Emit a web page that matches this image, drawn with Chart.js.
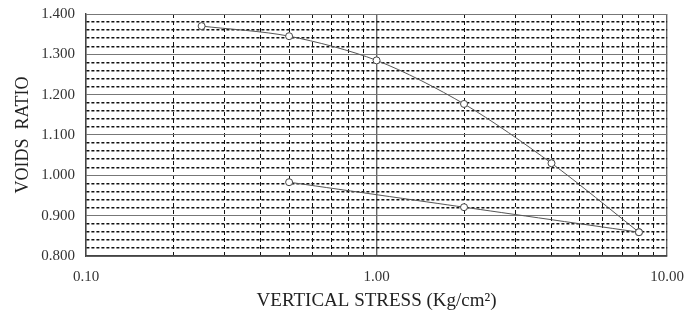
<!DOCTYPE html>
<html>
<head>
<meta charset="utf-8">
<script src="https://cdn.jsdelivr.net/npm/chart.js@4.4.0/dist/chart.umd.min.js"></script>
<style>
html, body { margin: 0; padding: 0; background: #fff; }
#wrap { width: 696px; height: 312px; }
</style>
</head>
<body>
<div id="wrap"><canvas id="voids"></canvas></div>
<script>
// consolidation test: loading and unloading branches
const loadStress = [0.25, 0.5, 1.0, 2.0, 4.0, 8.0];
const loadVoids = [1.370, 1.345, 1.285, 1.177, 1.030, 0.859];
const unloadStress = [8.0, 2.0, 0.5];
const unloadVoids = [0.859, 0.921, 0.983];

// axis ticks (log x, linear y)
const xTicks = [0.1, 0.2, 0.3, 0.4, 0.5, 0.6, 0.7, 0.8, 0.9, 1, 2, 3, 4, 5, 6, 7, 8, 9, 10];
const xLabelled = [0.1, 1, 10];
const yTicks = [0.80, 0.82, 0.84, 0.86, 0.88, 0.90, 0.92, 0.94, 0.96, 0.98,
                1.00, 1.02, 1.04, 1.06, 1.08, 1.10, 1.12, 1.14, 1.16, 1.18,
                1.20, 1.22, 1.24, 1.26, 1.28, 1.30, 1.32, 1.34, 1.36, 1.38, 1.40];

const toPoints = (xs, ys) => xs.map((x, i) => ({ x: x, y: ys[i] }));
const isMajorY = v => Math.round(v * 100) % 10 === 0;
const isMajorX = v => xLabelled.includes(v);

const serif = "'Liberation Serif', 'Times New Roman', serif";

const ctx = document.getElementById('voids').getContext('2d');

new Chart(ctx, {
    type: 'scatter',
    data: {
        datasets: [
            {
                label: 'Loading',
                data: toPoints(loadStress, loadVoids),
                showLine: true,
                tension: 0.3,
                borderColor: '#555',
                borderWidth: 1,
                pointRadius: 3.5,
                pointBackgroundColor: '#fff',
                pointBorderColor: '#444',
                pointBorderWidth: 1
            },
            {
                label: 'Unloading',
                data: toPoints(unloadStress, unloadVoids),
                showLine: true,
                tension: 0.2,
                borderColor: '#555',
                borderWidth: 1,
                pointRadius: 3.5,
                pointBackgroundColor: '#fff',
                pointBorderColor: '#444',
                pointBorderWidth: 1
            }
        ]
    },
    options: {
        responsive: true,
        maintainAspectRatio: false,
        animation: false,
        layout: { padding: { top: 14, right: 26, left: 0, bottom: 0 } },
        plugins: {
            legend: { display: false },
            tooltip: { enabled: false }
        },
        scales: {
            x: {
                type: 'logarithmic',
                min: 0.1,
                max: 10,
                afterBuildTicks: scale => {
                    scale.ticks = xTicks.map(v => ({ value: v, major: isMajorX(v) }));
                },
                afterFit: scale => { scale.height = 56; },
                ticks: {
                    autoSkip: false,
                    maxRotation: 0,
                    padding: 12,
                    color: '#333',
                    font: { family: serif, size: 15 },
                    callback: v => isMajorX(v) ? v.toFixed(2) : ''
                },
                grid: {
                    drawTicks: false,
                    color: c => {
                        const v = c.tick ? c.tick.value : 0;
                        return isMajorX(v) ? '#666' : '#111';
                    },
                    lineWidth: c => {
                        const v = c.tick ? c.tick.value : 0;
                        return isMajorX(v) ? 1.4 : 1;
                    }
                },
                border: {
                    color: '#444',
                    width: 1.4,
                    dash: c => {
                        if (!c.tick) return [];
                        return isMajorX(c.tick.value) ? [] : [4, 3];
                    }
                },
                title: {
                    display: true,
                    text: 'VERTICAL STRESS (Kg/cm²)',
                    color: '#222',
                    font: { family: serif, size: 19 },
                    padding: { top: 0, bottom: 0 }
                }
            },
            y: {
                type: 'linear',
                min: 0.8,
                max: 1.4,
                afterBuildTicks: scale => {
                    scale.ticks = yTicks.map(v => ({ value: v, major: isMajorY(v) }));
                },
                afterFit: scale => {
                    scale.width = 86;
                    // keep the plot top fixed by the layout padding only
                    scale.paddingTop = 0;
                    scale.paddingBottom = 0;
                },
                ticks: {
                    autoSkip: false,
                    padding: 11,
                    color: '#333',
                    font: { family: serif, size: 15 },
                    callback: v => isMajorY(v) ? v.toFixed(3) : ''
                },
                grid: {
                    drawTicks: false,
                    color: c => {
                        const v = c.tick ? c.tick.value : 0;
                        return isMajorY(v) ? '#777' : '#111';
                    },
                    lineWidth: c => {
                        const v = c.tick ? c.tick.value : 0;
                        return isMajorY(v) ? 1 : 1.4;
                    }
                },
                border: {
                    color: '#444',
                    width: 1.4,
                    dash: c => {
                        if (!c.tick) return [];
                        return isMajorY(c.tick.value) ? [] : [3, 2];
                    }
                },
                title: {
                    display: true,
                    text: 'VOIDS  RATIO',
                    color: '#222',
                    font: { family: serif, size: 18 },
                    padding: { top: 12, bottom: 0 }
                }
            }
        }
    }
});
</script>
</body>
</html>
